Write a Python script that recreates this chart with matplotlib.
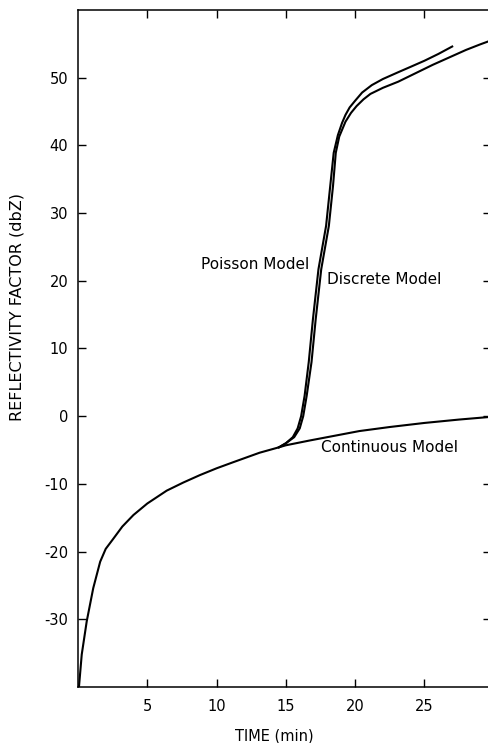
import matplotlib.pyplot as plt

# readings (time in min, reflectivity in dBZ)
cont_t = [0.07, 0.27, 0.63, 1.1, 1.6, 2.0, 2.55, 3.2, 4.0, 5.0, 6.4, 7.6, 8.8,
          10.0, 11.2, 13.1, 14.5, 15.0, 16.7, 18.5, 20.3, 22.5, 25.0, 27.5, 29.8]
cont_y = [-40, -35.2, -30.3, -25.4, -21.5, -19.6, -18.1, -16.3, -14.6, -12.9,
          -11.0, -9.8, -8.7, -7.7, -6.8, -5.4, -4.6, -4.3, -3.6, -2.9, -2.2,
          -1.6, -1.0, -0.5, -0.1]

poisson_t = [14.5, 15.0, 15.5, 15.85, 16.1, 16.35, 16.65, 16.95, 17.35, 17.9,
             18.2, 18.45, 18.75, 19.05, 19.3, 19.6, 20.0, 20.5, 21.2, 22.0,
             23.1, 24.0, 25.0, 26.0, 27.0]
poisson_y = [-4.6, -4.0, -3.1, -1.8, 0.0, 3.0, 8.0, 14.3, 21.7, 28.1,
             34.0, 38.9, 41.5, 43.3, 44.5, 45.6, 46.6, 47.8, 48.9, 49.8,
             50.8, 51.6, 52.5, 53.5, 54.6]

discrete_t = [14.5, 15.0, 15.6, 16.0, 16.25, 16.5, 16.85, 17.15, 17.55, 18.1,
              18.4, 18.6, 18.85, 19.3, 19.7, 20.1, 20.6, 21.1, 22.0, 23.1,
              24.3, 25.6, 26.8, 28.0, 29.0, 29.8]
discrete_y = [-4.6, -4.0, -3.1, -1.8, 0.0, 3.0, 8.0, 14.3, 21.7, 28.1,
              34.0, 38.9, 41.3, 43.5, 44.8, 45.8, 46.8, 47.6, 48.5, 49.4,
              50.6, 51.9, 53.0, 54.1, 54.9, 55.5]

x_ticks = [5, 10, 15, 20, 25]
y_ticks = [-30, -20, -10, 0, 10, 20, 30, 40, 50]

plt.rcParams["axes.unicode_minus"] = False
plt.rcParams["font.family"] = "DejaVu Sans"

fig = plt.figure(figsize=(4.89, 7.43), dpi=100)
ax = fig.add_axes([0.1595, 0.0754, 0.8446, 0.9112])

lw = 1.5
ax.plot(cont_t, cont_y, color="black", lw=lw)
ax.plot(poisson_t, poisson_y, color="black", lw=lw)
ax.plot(discrete_t, discrete_y, color="black", lw=lw)

ax.set_xlim(0, 29.8)
ax.set_ylim(-40, 60)
ax.set_xticks(x_ticks)
ax.set_yticks(y_ticks)
ax.tick_params(direction="in", length=6, width=1, labelsize=10.5,
               top=True, right=True, pad=7)
ax.tick_params(axis="x", pad=9)
for sp in ax.spines.values():
    sp.set_linewidth(1.1)

ax.set_xlabel("TIME (min)", fontsize=10.5)
ax.xaxis.set_label_coords(0.475, -0.061)
ax.set_ylabel("REFLECTIVITY FACTOR (dbZ)", fontsize=11.5)
ax.yaxis.set_label_coords(-0.13, 0.561)

ax.text(8.9, 22.4, "Poisson Model", fontsize=11, va="center", ha="left")
ax.text(18.0, 20.2, "Discrete Model", fontsize=11, va="center", ha="left")
ax.text(17.5, -4.6, "Continuous Model", fontsize=11, va="center", ha="left")

fig.savefig("out.png", dpi=100, facecolor="white")
